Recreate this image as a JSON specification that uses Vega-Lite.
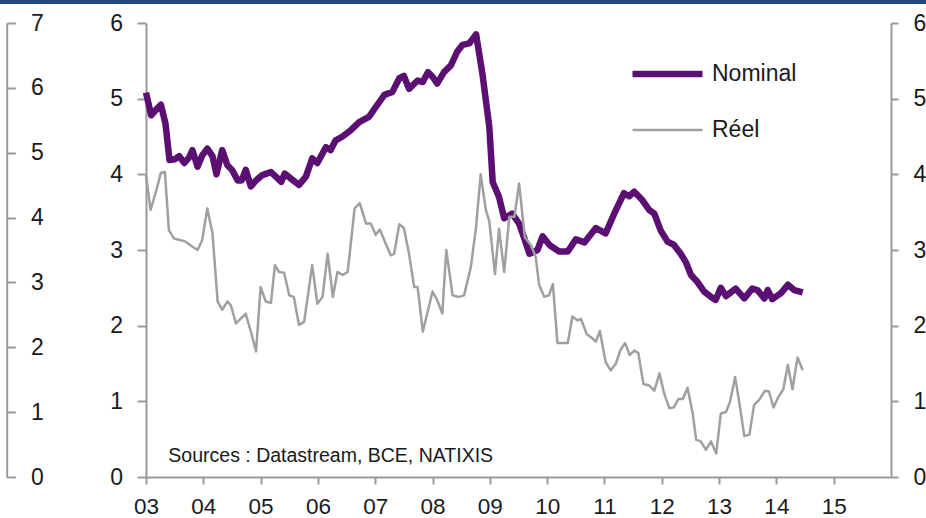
{
  "$schema": "https://vega.github.io/schema/vega-lite/v6.json",
  "width": 745,
  "height": 454,
  "autosize": {"type": "none"},
  "padding": {"left": 146, "top": 23, "right": 35, "bottom": 41},
  "background": "white",
  "config": {
    "view": {"stroke": null},
    "font": "Liberation Sans",
    "axis": {
      "domainColor": "#9a9a9a",
      "domainWidth": 2,
      "tickColor": "#9a9a9a",
      "tickWidth": 2,
      "labelFont": "Liberation Sans",
      "labelFontSize": 23,
      "labelColor": "#1a1a1a",
      "grid": false,
      "labelOverlap": false,
      "labelFlush": false
    }
  },
  "datasets": {
    "rates": [
      {"series": "Nominal", "t": 2003.00, "v": 5.08},
      {"series": "Nominal", "t": 2003.09, "v": 4.78},
      {"series": "Nominal", "t": 2003.17, "v": 4.85},
      {"series": "Nominal", "t": 2003.26, "v": 4.92},
      {"series": "Nominal", "t": 2003.34, "v": 4.67},
      {"series": "Nominal", "t": 2003.41, "v": 4.19},
      {"series": "Nominal", "t": 2003.50, "v": 4.20},
      {"series": "Nominal", "t": 2003.58, "v": 4.24},
      {"series": "Nominal", "t": 2003.67, "v": 4.15},
      {"series": "Nominal", "t": 2003.75, "v": 4.22},
      {"series": "Nominal", "t": 2003.81, "v": 4.32},
      {"series": "Nominal", "t": 2003.90, "v": 4.10},
      {"series": "Nominal", "t": 2003.98, "v": 4.25},
      {"series": "Nominal", "t": 2004.07, "v": 4.34},
      {"series": "Nominal", "t": 2004.16, "v": 4.24},
      {"series": "Nominal", "t": 2004.23, "v": 4.00},
      {"series": "Nominal", "t": 2004.33, "v": 4.32},
      {"series": "Nominal", "t": 2004.42, "v": 4.12},
      {"series": "Nominal", "t": 2004.50, "v": 4.06},
      {"series": "Nominal", "t": 2004.60, "v": 3.92},
      {"series": "Nominal", "t": 2004.67, "v": 3.92},
      {"series": "Nominal", "t": 2004.74, "v": 4.06},
      {"series": "Nominal", "t": 2004.83, "v": 3.84},
      {"series": "Nominal", "t": 2004.92, "v": 3.92},
      {"series": "Nominal", "t": 2005.03, "v": 3.99},
      {"series": "Nominal", "t": 2005.18, "v": 4.03},
      {"series": "Nominal", "t": 2005.28, "v": 3.96},
      {"series": "Nominal", "t": 2005.36, "v": 3.90},
      {"series": "Nominal", "t": 2005.42, "v": 4.01},
      {"series": "Nominal", "t": 2005.55, "v": 3.93},
      {"series": "Nominal", "t": 2005.67, "v": 3.86},
      {"series": "Nominal", "t": 2005.79, "v": 3.97},
      {"series": "Nominal", "t": 2005.90, "v": 4.21},
      {"series": "Nominal", "t": 2005.99, "v": 4.15},
      {"series": "Nominal", "t": 2006.14, "v": 4.36},
      {"series": "Nominal", "t": 2006.22, "v": 4.32},
      {"series": "Nominal", "t": 2006.31, "v": 4.45},
      {"series": "Nominal", "t": 2006.43, "v": 4.50},
      {"series": "Nominal", "t": 2006.57, "v": 4.58},
      {"series": "Nominal", "t": 2006.72, "v": 4.69},
      {"series": "Nominal", "t": 2006.89, "v": 4.76},
      {"series": "Nominal", "t": 2007.01, "v": 4.89},
      {"series": "Nominal", "t": 2007.16, "v": 5.05},
      {"series": "Nominal", "t": 2007.30, "v": 5.09},
      {"series": "Nominal", "t": 2007.42, "v": 5.27},
      {"series": "Nominal", "t": 2007.50, "v": 5.30},
      {"series": "Nominal", "t": 2007.59, "v": 5.13},
      {"series": "Nominal", "t": 2007.74, "v": 5.24},
      {"series": "Nominal", "t": 2007.83, "v": 5.22},
      {"series": "Nominal", "t": 2007.92, "v": 5.35},
      {"series": "Nominal", "t": 2008.00, "v": 5.29},
      {"series": "Nominal", "t": 2008.08, "v": 5.20},
      {"series": "Nominal", "t": 2008.20, "v": 5.35},
      {"series": "Nominal", "t": 2008.32, "v": 5.44},
      {"series": "Nominal", "t": 2008.43, "v": 5.62},
      {"series": "Nominal", "t": 2008.52, "v": 5.71},
      {"series": "Nominal", "t": 2008.64, "v": 5.73},
      {"series": "Nominal", "t": 2008.76, "v": 5.85},
      {"series": "Nominal", "t": 2008.87, "v": 5.33},
      {"series": "Nominal", "t": 2008.99, "v": 4.63},
      {"series": "Nominal", "t": 2009.05, "v": 3.90},
      {"series": "Nominal", "t": 2009.16, "v": 3.70},
      {"series": "Nominal", "t": 2009.25, "v": 3.42},
      {"series": "Nominal", "t": 2009.39, "v": 3.48},
      {"series": "Nominal", "t": 2009.51, "v": 3.35},
      {"series": "Nominal", "t": 2009.63, "v": 3.09},
      {"series": "Nominal", "t": 2009.69, "v": 2.95},
      {"series": "Nominal", "t": 2009.83, "v": 3.00},
      {"series": "Nominal", "t": 2009.92, "v": 3.18},
      {"series": "Nominal", "t": 2010.05, "v": 3.06},
      {"series": "Nominal", "t": 2010.21, "v": 2.98},
      {"series": "Nominal", "t": 2010.36, "v": 2.98},
      {"series": "Nominal", "t": 2010.50, "v": 3.14},
      {"series": "Nominal", "t": 2010.65, "v": 3.10},
      {"series": "Nominal", "t": 2010.85, "v": 3.29},
      {"series": "Nominal", "t": 2011.02, "v": 3.22},
      {"series": "Nominal", "t": 2011.17, "v": 3.48},
      {"series": "Nominal", "t": 2011.34, "v": 3.75},
      {"series": "Nominal", "t": 2011.43, "v": 3.71},
      {"series": "Nominal", "t": 2011.52, "v": 3.77},
      {"series": "Nominal", "t": 2011.66, "v": 3.66},
      {"series": "Nominal", "t": 2011.78, "v": 3.53},
      {"series": "Nominal", "t": 2011.87, "v": 3.48},
      {"series": "Nominal", "t": 2011.98, "v": 3.26},
      {"series": "Nominal", "t": 2012.10, "v": 3.11},
      {"series": "Nominal", "t": 2012.21, "v": 3.07},
      {"series": "Nominal", "t": 2012.33, "v": 2.95},
      {"series": "Nominal", "t": 2012.42, "v": 2.84},
      {"series": "Nominal", "t": 2012.51, "v": 2.67},
      {"series": "Nominal", "t": 2012.62, "v": 2.58},
      {"series": "Nominal", "t": 2012.74, "v": 2.45},
      {"series": "Nominal", "t": 2012.86, "v": 2.38},
      {"series": "Nominal", "t": 2012.94, "v": 2.34},
      {"series": "Nominal", "t": 2013.03, "v": 2.50},
      {"series": "Nominal", "t": 2013.12, "v": 2.39},
      {"series": "Nominal", "t": 2013.29, "v": 2.49},
      {"series": "Nominal", "t": 2013.44, "v": 2.36},
      {"series": "Nominal", "t": 2013.58, "v": 2.49},
      {"series": "Nominal", "t": 2013.67, "v": 2.47},
      {"series": "Nominal", "t": 2013.79, "v": 2.36},
      {"series": "Nominal", "t": 2013.85, "v": 2.47},
      {"series": "Nominal", "t": 2013.93, "v": 2.35},
      {"series": "Nominal", "t": 2014.08, "v": 2.43},
      {"series": "Nominal", "t": 2014.20, "v": 2.54},
      {"series": "Nominal", "t": 2014.31, "v": 2.47},
      {"series": "Nominal", "t": 2014.46, "v": 2.44},
      {"series": "Réel", "t": 2003.00, "v": 3.99},
      {"series": "Réel", "t": 2003.08, "v": 3.53},
      {"series": "Réel", "t": 2003.17, "v": 3.76},
      {"series": "Réel", "t": 2003.26, "v": 4.02},
      {"series": "Réel", "t": 2003.33, "v": 4.03},
      {"series": "Réel", "t": 2003.40, "v": 3.26},
      {"series": "Réel", "t": 2003.49, "v": 3.15},
      {"series": "Réel", "t": 2003.61, "v": 3.13},
      {"series": "Réel", "t": 2003.69, "v": 3.11},
      {"series": "Réel", "t": 2003.78, "v": 3.06},
      {"series": "Réel", "t": 2003.90, "v": 3.00},
      {"series": "Réel", "t": 2003.98, "v": 3.13},
      {"series": "Réel", "t": 2004.07, "v": 3.55},
      {"series": "Réel", "t": 2004.16, "v": 3.22},
      {"series": "Réel", "t": 2004.25, "v": 2.32},
      {"series": "Réel", "t": 2004.33, "v": 2.21},
      {"series": "Réel", "t": 2004.42, "v": 2.32},
      {"series": "Réel", "t": 2004.48, "v": 2.27},
      {"series": "Réel", "t": 2004.57, "v": 2.03},
      {"series": "Réel", "t": 2004.74, "v": 2.16},
      {"series": "Réel", "t": 2004.83, "v": 1.92},
      {"series": "Réel", "t": 2004.92, "v": 1.66},
      {"series": "Réel", "t": 2005.00, "v": 2.51},
      {"series": "Réel", "t": 2005.09, "v": 2.32},
      {"series": "Réel", "t": 2005.18, "v": 2.30},
      {"series": "Réel", "t": 2005.25, "v": 2.80},
      {"series": "Réel", "t": 2005.32, "v": 2.71},
      {"series": "Réel", "t": 2005.41, "v": 2.70},
      {"series": "Réel", "t": 2005.50, "v": 2.40},
      {"series": "Réel", "t": 2005.58, "v": 2.38},
      {"series": "Réel", "t": 2005.67, "v": 2.01},
      {"series": "Réel", "t": 2005.76, "v": 2.05},
      {"series": "Réel", "t": 2005.90, "v": 2.80},
      {"series": "Réel", "t": 2005.99, "v": 2.29},
      {"series": "Réel", "t": 2006.08, "v": 2.38},
      {"series": "Réel", "t": 2006.17, "v": 2.95},
      {"series": "Réel", "t": 2006.26, "v": 2.38},
      {"series": "Réel", "t": 2006.34, "v": 2.71},
      {"series": "Réel", "t": 2006.43, "v": 2.67},
      {"series": "Réel", "t": 2006.52, "v": 2.71},
      {"series": "Réel", "t": 2006.64, "v": 3.55},
      {"series": "Réel", "t": 2006.73, "v": 3.62},
      {"series": "Réel", "t": 2006.84, "v": 3.35},
      {"series": "Réel", "t": 2006.92, "v": 3.35},
      {"series": "Réel", "t": 2007.01, "v": 3.20},
      {"series": "Réel", "t": 2007.08, "v": 3.27},
      {"series": "Réel", "t": 2007.18, "v": 3.09},
      {"series": "Réel", "t": 2007.27, "v": 2.93},
      {"series": "Réel", "t": 2007.33, "v": 2.95},
      {"series": "Réel", "t": 2007.42, "v": 3.34},
      {"series": "Réel", "t": 2007.50, "v": 3.29},
      {"series": "Réel", "t": 2007.59, "v": 2.95},
      {"series": "Réel", "t": 2007.68, "v": 2.51},
      {"series": "Réel", "t": 2007.74, "v": 2.51},
      {"series": "Réel", "t": 2007.83, "v": 1.92},
      {"series": "Réel", "t": 2008.00, "v": 2.45},
      {"series": "Réel", "t": 2008.08, "v": 2.34},
      {"series": "Réel", "t": 2008.17, "v": 2.16},
      {"series": "Réel", "t": 2008.24, "v": 3.00},
      {"series": "Réel", "t": 2008.35, "v": 2.40},
      {"series": "Réel", "t": 2008.46, "v": 2.38},
      {"series": "Réel", "t": 2008.55, "v": 2.40},
      {"series": "Réel", "t": 2008.67, "v": 2.78},
      {"series": "Réel", "t": 2008.76, "v": 3.31},
      {"series": "Réel", "t": 2008.84, "v": 4.00},
      {"series": "Réel", "t": 2008.93, "v": 3.53},
      {"series": "Réel", "t": 2008.99, "v": 3.38},
      {"series": "Réel", "t": 2009.09, "v": 2.68},
      {"series": "Réel", "t": 2009.16, "v": 3.28},
      {"series": "Réel", "t": 2009.25, "v": 2.71},
      {"series": "Réel", "t": 2009.34, "v": 3.44},
      {"series": "Réel", "t": 2009.43, "v": 3.44},
      {"series": "Réel", "t": 2009.51, "v": 3.88},
      {"series": "Réel", "t": 2009.61, "v": 3.17},
      {"series": "Réel", "t": 2009.72, "v": 3.06},
      {"series": "Réel", "t": 2009.80, "v": 2.91},
      {"series": "Réel", "t": 2009.86, "v": 2.54},
      {"series": "Réel", "t": 2009.95, "v": 2.38},
      {"series": "Réel", "t": 2010.03, "v": 2.40},
      {"series": "Réel", "t": 2010.10, "v": 2.55},
      {"series": "Réel", "t": 2010.18, "v": 1.77},
      {"series": "Réel", "t": 2010.36, "v": 1.77},
      {"series": "Réel", "t": 2010.44, "v": 2.12},
      {"series": "Réel", "t": 2010.53, "v": 2.07},
      {"series": "Réel", "t": 2010.59, "v": 2.09},
      {"series": "Réel", "t": 2010.69, "v": 1.89},
      {"series": "Réel", "t": 2010.76, "v": 1.85},
      {"series": "Réel", "t": 2010.85, "v": 1.79},
      {"series": "Réel", "t": 2010.92, "v": 1.93},
      {"series": "Réel", "t": 2011.02, "v": 1.52},
      {"series": "Réel", "t": 2011.11, "v": 1.41},
      {"series": "Réel", "t": 2011.20, "v": 1.50},
      {"series": "Réel", "t": 2011.28, "v": 1.68},
      {"series": "Réel", "t": 2011.36, "v": 1.77},
      {"series": "Réel", "t": 2011.44, "v": 1.61},
      {"series": "Réel", "t": 2011.52, "v": 1.67},
      {"series": "Réel", "t": 2011.59, "v": 1.64},
      {"series": "Réel", "t": 2011.68, "v": 1.23},
      {"series": "Réel", "t": 2011.78, "v": 1.21},
      {"series": "Réel", "t": 2011.87, "v": 1.14},
      {"series": "Réel", "t": 2011.96, "v": 1.37},
      {"series": "Réel", "t": 2012.04, "v": 1.11},
      {"series": "Réel", "t": 2012.13, "v": 0.91},
      {"series": "Réel", "t": 2012.21, "v": 0.92},
      {"series": "Réel", "t": 2012.29, "v": 1.03},
      {"series": "Réel", "t": 2012.37, "v": 1.03},
      {"series": "Réel", "t": 2012.45, "v": 1.18},
      {"series": "Réel", "t": 2012.54, "v": 0.84},
      {"series": "Réel", "t": 2012.60, "v": 0.49},
      {"series": "Réel", "t": 2012.68, "v": 0.47},
      {"series": "Réel", "t": 2012.77, "v": 0.36},
      {"series": "Réel", "t": 2012.86, "v": 0.47},
      {"series": "Réel", "t": 2012.95, "v": 0.31},
      {"series": "Réel", "t": 2013.03, "v": 0.84},
      {"series": "Réel", "t": 2013.12, "v": 0.86},
      {"series": "Réel", "t": 2013.19, "v": 0.99},
      {"series": "Réel", "t": 2013.28, "v": 1.32},
      {"series": "Réel", "t": 2013.36, "v": 0.95},
      {"series": "Réel", "t": 2013.44, "v": 0.54},
      {"series": "Réel", "t": 2013.53, "v": 0.56},
      {"series": "Réel", "t": 2013.61, "v": 0.95},
      {"series": "Réel", "t": 2013.70, "v": 1.02},
      {"series": "Réel", "t": 2013.80, "v": 1.14},
      {"series": "Réel", "t": 2013.87, "v": 1.13},
      {"series": "Réel", "t": 2013.95, "v": 0.92},
      {"series": "Réel", "t": 2014.03, "v": 1.05},
      {"series": "Réel", "t": 2014.12, "v": 1.16},
      {"series": "Réel", "t": 2014.20, "v": 1.48},
      {"series": "Réel", "t": 2014.28, "v": 1.16},
      {"series": "Réel", "t": 2014.37, "v": 1.58},
      {"series": "Réel", "t": 2014.46, "v": 1.41}
    ],
    "note": [{"text": "Sources : Datastream, BCE, NATIXIS"}],
    "band": [{"name": "bandeau"}]
  },
  "layer": [
    {
      "layer": [
        {
          "data": {"name": "rates"},
          "mark": {"type": "line", "strokeJoin": "round", "strokeCap": "butt"},
          "encoding": {
            "x": {
              "field": "t", "type": "quantitative",
              "scale": {"domain": [2003, 2016], "nice": false, "zero": false},
              "axis": {
                "title": null,
                "values": [2003, 2004, 2005, 2006, 2007, 2008, 2009, 2010, 2011, 2012, 2013, 2014, 2015],
                "labelExpr": "substring(toString(datum.value), 2)",
                "tickSize": 7,
                "labelPadding": 11,
                "labelFontSize": 22.5
              }
            },
            "y": {
              "field": "v", "type": "quantitative",
              "scale": {"domain": [0, 6], "nice": false},
              "axis": {"title": null, "values": [0, 1, 2, 3, 4, 5, 6], "tickSize": 9, "labelPadding": 14.5}
            },
            "color": {
              "field": "series", "type": "nominal",
              "scale": {"domain": ["Nominal", "Réel"], "range": ["#5b0f72", "#a0a0a0"]},
              "legend": {
                "title": null, "orient": "none", "legendX": 483, "legendY": 23,
                "symbolType": "stroke", "symbolSize": 4900, "clipHeight": 56, "rowPadding": 0,
                "labelFont": "Liberation Sans", "labelFontSize": 23, "labelColor": "#1a1a1a",
                "labelOffset": 6, "padding": 0
              }
            },
            "strokeWidth": {
              "field": "series", "type": "nominal",
              "scale": {"type": "point", "padding": 0, "domain": ["Nominal", "Réel"], "range": [6.5, 2.5]},
              "legend": {
                "title": null, "orient": "none", "legendX": 483, "legendY": 23,
                "symbolType": "stroke", "symbolSize": 4900, "clipHeight": 56, "rowPadding": 0,
                "labelFont": "Liberation Sans", "labelFontSize": 23, "labelColor": "#1a1a1a",
                "labelOffset": 6, "padding": 0
              }
            }
          }
        },
        {
          "data": {"name": "band"},
          "mark": {"type": "rect", "color": "#1f497d"},
          "encoding": {
            "x": {
              "datum": 2000, "type": "quantitative",
              "scale": {"domain": [2003, 2016], "nice": false, "zero": false},
              "axis": {
                "title": null,
                "values": [2003, 2004, 2005, 2006, 2007, 2008, 2009, 2010, 2011, 2012, 2013, 2014, 2015],
                "labelExpr": "substring(toString(datum.value), 2)",
                "tickSize": 7,
                "labelPadding": 11,
                "labelFontSize": 22.5
              }
            },
            "x2": {"datum": 2020},
            "y": {
              "datum": 6.252, "type": "quantitative",
              "scale": {"domain": [0, 6], "nice": false},
              "axis": {"title": null, "values": [0, 1, 2, 3, 4, 5, 6], "tickSize": 9, "labelPadding": 14.5}
            },
            "y2": {"datum": 6.7}
          }
        },
        {
          "data": {"name": "note"},
          "mark": {"type": "text", "align": "left", "baseline": "alphabetic", "fontSize": 19.5, "font": "Liberation Sans", "color": "#1a1a1a"},
          "encoding": {
            "x": {
              "datum": 2003.39, "type": "quantitative",
              "scale": {"domain": [2003, 2016], "nice": false, "zero": false},
              "axis": {
                "title": null,
                "values": [2003, 2004, 2005, 2006, 2007, 2008, 2009, 2010, 2011, 2012, 2013, 2014, 2015],
                "labelExpr": "substring(toString(datum.value), 2)",
                "tickSize": 7,
                "labelPadding": 11,
                "labelFontSize": 22.5
              }
            },
            "y": {
              "datum": 0.2, "type": "quantitative",
              "scale": {"domain": [0, 6], "nice": false},
              "axis": {"title": null, "values": [0, 1, 2, 3, 4, 5, 6], "tickSize": 9, "labelPadding": 14.5}
            },
            "text": {"field": "text", "type": "nominal"}
          }
        }
      ]
    },
    {
      "data": {"name": "rates"},
      "mark": {"type": "point", "opacity": 0},
      "encoding": {
        "x": {
          "field": "t", "type": "quantitative",
          "scale": {"domain": [2003, 2016], "nice": false, "zero": false},
          "axis": {
            "title": null,
            "values": [2003, 2004, 2005, 2006, 2007, 2008, 2009, 2010, 2011, 2012, 2013, 2014, 2015],
            "labelExpr": "substring(toString(datum.value), 2)",
            "tickSize": 7,
            "labelPadding": 11,
            "labelFontSize": 22.5
          }
        },
        "y": {
          "field": "v", "type": "quantitative",
          "scale": {"domain": [0, 6], "nice": false},
          "axis": {"orient": "right", "title": null, "values": [0, 1, 2, 3, 4, 5, 6], "tickSize": 7, "labelPadding": 15}
        }
      }
    },
    {
      "data": {"name": "rates"},
      "mark": {"type": "point", "opacity": 0},
      "encoding": {
        "x": {
          "field": "t", "type": "quantitative",
          "scale": {"domain": [2003, 2016], "nice": false, "zero": false},
          "axis": {
            "title": null,
            "values": [2003, 2004, 2005, 2006, 2007, 2008, 2009, 2010, 2011, 2012, 2013, 2014, 2015],
            "labelExpr": "substring(toString(datum.value), 2)",
            "tickSize": 7,
            "labelPadding": 11,
            "labelFontSize": 22.5
          }
        },
        "y": {
          "field": "v", "type": "quantitative",
          "scale": {"domain": [0, 7], "nice": false},
          "axis": {"orient": "left", "offset": 139.3, "title": null, "values": [0, 1, 2, 3, 4, 5, 6, 7], "tickSize": -8.7, "labelPadding": -28}
        }
      }
    }
  ],
  "resolve": {"scale": {"y": "independent"}, "axis": {"y": "independent"}}
}
